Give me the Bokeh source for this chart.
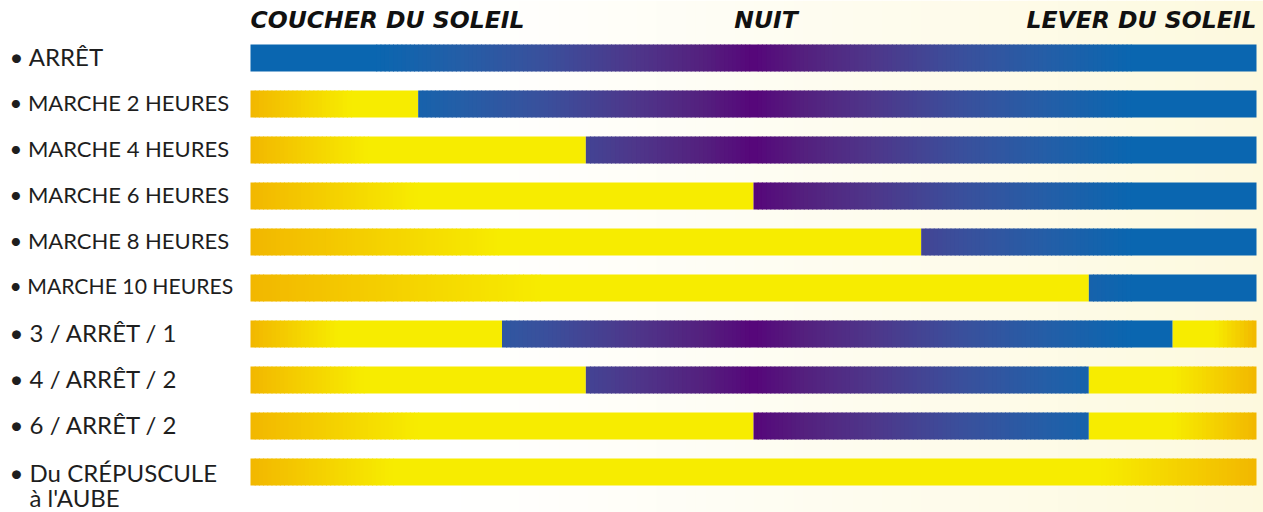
import numpy as np
from bokeh.plotting import figure
from bokeh.models import Range1d, ColumnDataSource
from bokeh.core.properties import value
from bokeh.embed import file_html
from bokeh.resources import INLINE

# ---------------- data ----------------
labels = ["ARRÊT", "MARCHE 2 HEURES", "MARCHE 4 HEURES", "MARCHE 6 HEURES",
          "MARCHE 8 HEURES", "MARCHE 10 HEURES", "3 / ARRÊT / 1",
          "4 / ARRÊT / 2", "6 / ARRÊT / 2", "Du CRÉPUSCULE\nà l'AUBE"]
evening_on_until = [0, 2, 4, 6, 8, 10, 3, 4, 6, 12]     # hours after sunset
morning_on_from = [12, 12, 12, 12, 12, 12, 11, 10, 10, 12]  # hours after sunset
night_hours = 12
headers = ["COUCHER DU SOLEIL", "NUIT", "LEVER DU SOLEIL"]
header_hours = [0, 6.15, 12]

# ---------------- style ----------------
fade_evening = [0, 1.2, 1.4, 2.0, 3.0, 3.5, 1.05, 1.35, 2.0, 1.7]
fade_morning = [0, 0, 0, 0, 0, 0, 0.5, 1.0, 1.0, 1.85]
label_sizes = ["24px", "22px", "22px", "22px", "22px", "21.2px", "24px", "24px", "24px", "24px"]
ORANGE = (242, 183, 0)
YELLOW = (247, 236, 0)
OFF_STOPS = [(0.0, (10, 102, 176)), (1.5, (10, 102, 176)), (2.5, (36, 94, 167)),
             (3.5, (58, 80, 156)), (4.6, (78, 54, 138)), (5.4, (84, 32, 126)),
             (6.0, (86, 6, 122))]
ROW_PX = 46
BAR_H = 27 / ROW_PX
STEP = 0.05

def hexc(c):
    return "#%02x%02x%02x" % tuple(int(round(v)) for v in c)

def lerp(a, b, t):
    t = min(max(t, 0.0), 1.0)
    return tuple(a[k] + (b[k] - a[k]) * t for k in range(3))

def off_color(h):
    h = min(h, night_hours - h)
    for (h0, c0), (h1, c1) in zip(OFF_STOPS[:-1], OFF_STOPS[1:]):
        if h <= h1:
            return lerp(c0, c1, (h - h0) / (h1 - h0))
    return OFF_STOPS[-1][1]

def on_color(h, a, b, fl, fr):
    c = YELLOW
    if fl > 0 and h < a + fl:
        c = lerp(ORANGE, YELLOW, (h - a) / fl)
    if fr > 0 and h > b - fr:
        c = lerp(ORANGE, YELLOW, (b - h) / fr)
    return c

L, R, T, B, C = [], [], [], [], []

def add_segment(row, a, b, colfun):
    if b <= a:
        return
    n = max(1, int(np.ceil((b - a) / STEP)))
    edges = np.linspace(a, b, n + 1)
    runs = []
    for x0, x1 in zip(edges[:-1], edges[1:]):
        col = hexc(colfun((x0 + x1) / 2))
        if runs and runs[-1][2] == col:
            runs[-1][1] = x1
        else:
            runs.append([x0, x1, col])
    for k, (x0, x1, col) in enumerate(runs):
        L.append(x0)
        R.append(x1 + (0.012 if k < len(runs) - 1 else 0))
        T.append(row - BAR_H / 2)
        B.append(row + BAR_H / 2)
        C.append(col)

for i in range(len(labels)):
    e, m = evening_on_until[i], morning_on_from[i]
    fl, fr = fade_evening[i], fade_morning[i]
    if e >= m:
        add_segment(i, 0, night_hours, lambda h, fl=fl, fr=fr: on_color(h, 0, night_hours, fl, fr))
        continue
    add_segment(i, 0, e, lambda h, e=e, fl=fl: on_color(h, 0, e, fl, 0))
    add_segment(i, e, m, off_color)
    add_segment(i, m, night_hours, lambda h, m=m, fr=fr: on_color(h, m, night_hours, 0, fr))

# ---------------- figure ----------------
W, H = 1263, 512
X0_PX, X12_PX = 250, 1256
PX_PER_H = (X12_PX - X0_PX) / night_hours
x_start = -X0_PX / PX_PER_H
x_end = (W - X0_PX) / PX_PER_H
y_top = -57.5 / ROW_PX
y_bot = y_top + H / ROW_PX

def px_x(sx):
    return (sx - X0_PX) / PX_PER_H

p = figure(width=W, height=H, output_backend="svg", toolbar_location=None,
           x_range=Range1d(x_start, x_end), y_range=Range1d(y_bot, y_top),
           min_border=0, background_fill_color="white", border_fill_color="white")
p.outline_line_color = None
p.axis.visible = False
p.grid.visible = False

# background glow (sunrise side)
bg_edges = np.linspace(x_start, x_end, 130)
bl, br, bc = [], [], []
for a, b in zip(bg_edges[:-1], bg_edges[1:]):
    sx = X0_PX + (a + b) / 2 * PX_PER_H
    t = (sx - 450) / (W - 450)
    bl.append(a); br.append(b + 0.01)
    bc.append(hexc(lerp((255, 255, 255), (253, 249, 222), t)))
p.quad(left=bl, right=br, top=y_top, bottom=y_bot, fill_color=bc, line_color=None)

p.quad(source=ColumnDataSource(dict(left=L, right=R, top=T, bottom=B, color=C)),
       left="left", right="right", top="top", bottom="bottom",
       fill_color="color", line_color=None)

# headers
p.text(x=header_hours, y=[y_top + 19 / ROW_PX] * 3, text=headers,
       text_align=["left", "center", "right"], text_baseline="alphabetic",
       text_font=value("DejaVu Sans"), text_font_style="bold italic",
       text_font_size="23.5px", text_color="#111111")

# row labels
first = ["• " + s.split("\n")[0] for s in labels]
base_off = [-2.0] * len(labels)
base_off[-1] = 0.0
p.text(x=[px_x(9)] * len(first), y=[i + base_off[i] / ROW_PX for i in range(len(first))],
       text=first, text_align="left", text_baseline="alphabetic",
       text_font=value("Lato"), text_font_size=label_sizes, text_color="#1e1e1e")
cont = [(i, s.split("\n")[1]) for i, s in enumerate(labels) if "\n" in s]
p.text(x=[px_x(29)] * len(cont), y=[i + 25 / ROW_PX for i, _ in cont],
       text=[s for _, s in cont], text_align="left", text_baseline="alphabetic",
       text_font=value("Lato"), text_font_size=[label_sizes[i] for i, _ in cont],
       text_color="#1e1e1e")

open("out.html", "w").write(file_html(p, INLINE))
